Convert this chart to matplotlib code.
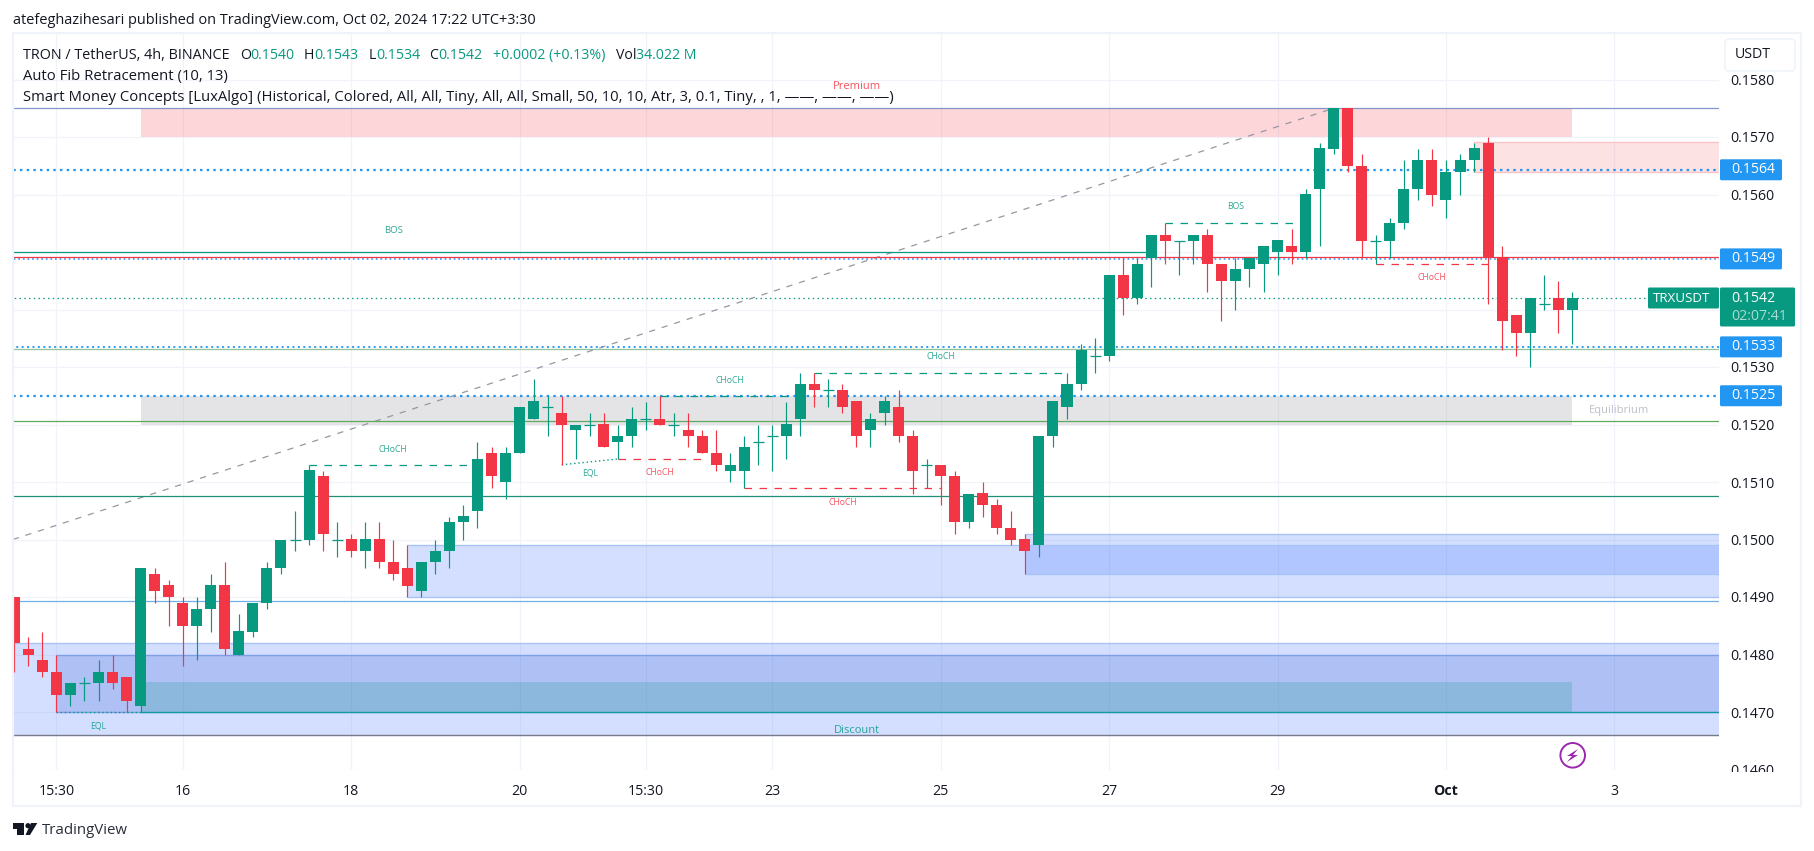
import numpy as np
import matplotlib
matplotlib.use('Agg')
import matplotlib.pyplot as plt
from matplotlib.patches import Rectangle, FancyBboxPatch, Circle, Polygon

plt.rcParams['font.family'] = ['Open Sans', 'DejaVu Sans']

# candles, left to right
opens = [0.1490, 0.1481, 0.1479, 0.1477, 0.1473, 0.1475, 0.1475, 0.1477, 0.1476, 0.1471,
         0.1494, 0.1492, 0.1489, 0.1485, 0.1488, 0.1492, 0.1480, 0.1484, 0.1489, 0.1495,
         0.1500, 0.1500, 0.1511, 0.1500, 0.1500, 0.1498, 0.1500, 0.1496, 0.1495, 0.1491,
         0.1496, 0.1498, 0.1503, 0.1505, 0.1515, 0.1510, 0.1515, 0.1521, 0.1523, 0.1522,
         0.1519, 0.1520, 0.1520, 0.1517, 0.1518, 0.1521, 0.1521, 0.1520, 0.1519, 0.1518,
         0.1515, 0.1512, 0.1512, 0.1517, 0.1518, 0.1518, 0.1521, 0.1527, 0.1526, 0.1526,
         0.1524, 0.1519, 0.1522, 0.1523, 0.1518, 0.1513, 0.1513, 0.1511, 0.1503, 0.1508,
         0.1506, 0.1502, 0.1500, 0.1499, 0.1518, 0.1523, 0.1527, 0.1532, 0.1532, 0.1546,
         0.1542, 0.1549, 0.1553, 0.1552, 0.1552, 0.1553, 0.1548, 0.1545, 0.1547, 0.1548,
         0.1550, 0.1551, 0.1550, 0.1561, 0.1568, 0.1575, 0.1565, 0.1552, 0.1552, 0.1555,
         0.1561, 0.1566, 0.1559, 0.1564, 0.1566, 0.1569, 0.1549, 0.1539, 0.1536, 0.1541,
         0.1542, 0.1540]
highs = [0.1490, 0.1483, 0.1484, 0.1480, 0.1475, 0.1476, 0.1479, 0.1480, 0.1476, 0.1495,
         0.1495, 0.1493, 0.1490, 0.1490, 0.1494, 0.1496, 0.1487, 0.1489, 0.1496, 0.1500,
         0.1505, 0.1513, 0.1512, 0.1503, 0.1501, 0.1503, 0.1503, 0.1500, 0.1499, 0.1496,
         0.1500, 0.1504, 0.1506, 0.1517, 0.1516, 0.1516, 0.1523, 0.1528, 0.1525, 0.1525,
         0.1520, 0.1522, 0.1522, 0.1520, 0.1523, 0.1524, 0.1525, 0.1522, 0.1522, 0.1519,
         0.1519, 0.1515, 0.1518, 0.1520, 0.1520, 0.1524, 0.1529, 0.1529, 0.1528, 0.1527,
         0.1524, 0.1522, 0.1525, 0.1526, 0.1519, 0.1514, 0.1513, 0.1512, 0.1508, 0.1510,
         0.1507, 0.1505, 0.1501, 0.1518, 0.1524, 0.1529, 0.1534, 0.1535, 0.1546, 0.1549,
         0.1549, 0.1553, 0.1555, 0.1552, 0.1553, 0.1554, 0.1548, 0.1549, 0.1549, 0.1551,
         0.1552, 0.1554, 0.1561, 0.1569, 0.1575, 0.1575, 0.1567, 0.1553, 0.1556, 0.1566,
         0.1568, 0.1568, 0.1566, 0.1567, 0.1569, 0.1570, 0.1551, 0.1539, 0.1542, 0.1546,
         0.1545, 0.1543]
lows = [0.1477, 0.1478, 0.1476, 0.1470, 0.1471, 0.1472, 0.1472, 0.1474, 0.1470, 0.1470,
        0.1489, 0.1485, 0.1478, 0.1479, 0.1484, 0.1480, 0.1480, 0.1483, 0.1488, 0.1494,
        0.1498, 0.1499, 0.1498, 0.1497, 0.1497, 0.1495, 0.1495, 0.1493, 0.1490, 0.1490,
        0.1494, 0.1495, 0.1500, 0.1502, 0.1509, 0.1507, 0.1515, 0.1521, 0.1518, 0.1513,
        0.1514, 0.1518, 0.1516, 0.1514, 0.1516, 0.1519, 0.1520, 0.1518, 0.1516, 0.1515,
        0.1512, 0.1510, 0.1509, 0.1513, 0.1512, 0.1514, 0.1518, 0.1523, 0.1523, 0.1522,
        0.1516, 0.1516, 0.1520, 0.1517, 0.1508, 0.1509, 0.1506, 0.1501, 0.1502, 0.1504,
        0.1501, 0.1499, 0.1494, 0.1497, 0.1516, 0.1521, 0.1526, 0.1529, 0.1531, 0.1539,
        0.1541, 0.1544, 0.1548, 0.1546, 0.1548, 0.1543, 0.1538, 0.1540, 0.1544, 0.1543,
        0.1546, 0.1548, 0.1549, 0.1551, 0.1567, 0.1564, 0.1549, 0.1548, 0.1549, 0.1554,
        0.1559, 0.1558, 0.1556, 0.1560, 0.1564, 0.1541, 0.1533, 0.1532, 0.1530, 0.1540,
        0.1536, 0.1534]
closes = [0.1482, 0.1480, 0.1477, 0.1473, 0.1475, 0.1475, 0.1477, 0.1475, 0.1472, 0.1495,
          0.1491, 0.1490, 0.1485, 0.1488, 0.1492, 0.1481, 0.1484, 0.1489, 0.1495, 0.1500,
          0.1500, 0.1512, 0.1501, 0.1500, 0.1498, 0.1500, 0.1496, 0.1494, 0.1492, 0.1496,
          0.1498, 0.1503, 0.1504, 0.1514, 0.1511, 0.1515, 0.1523, 0.1524, 0.1523, 0.1520,
          0.1520, 0.1520, 0.1516, 0.1518, 0.1521, 0.1521, 0.1520, 0.1520, 0.1518, 0.1515,
          0.1513, 0.1513, 0.1516, 0.1517, 0.1518, 0.1520, 0.1527, 0.1526, 0.1526, 0.1523,
          0.1518, 0.1521, 0.1524, 0.1518, 0.1512, 0.1513, 0.1511, 0.1503, 0.1508, 0.1506,
          0.1502, 0.1500, 0.1498, 0.1518, 0.1524, 0.1527, 0.1533, 0.1532, 0.1546, 0.1542,
          0.1548, 0.1553, 0.1552, 0.1552, 0.1553, 0.1548, 0.1545, 0.1547, 0.1549, 0.1551,
          0.1552, 0.1550, 0.1560, 0.1568, 0.1575, 0.1565, 0.1552, 0.1552, 0.1555, 0.1561,
          0.1566, 0.1560, 0.1564, 0.1566, 0.1568, 0.1549, 0.1538, 0.1536, 0.1542, 0.1541,
          0.1540, 0.1542]

# axis ticks, the 0.1540 and 0.1550 labels sit behind the price tags in the original
price_ticks = [0.1460, 0.1470, 0.1480, 0.1490, 0.1500, 0.1510, 0.1520, 0.1530, 0.1540, 0.1550, 0.1560, 0.1570, 0.1580]
price_labels = ['0.1460', '0.1470', '0.1480', '0.1490', '0.1500', '0.1510', '0.1520', '0.1530', '', '', '0.1560', '0.1570', '0.1580']
time_ticks = [3, 12, 24, 36, 45, 54, 66, 78, 90, 102, 114]
time_labels = ['15:30', '16', '18', '20', '15:30', '23', '25', '27', '29', 'Oct', '3']

# zones: first bar, last bar, low, high
premium_zone = (9, 111, 0.1570, 0.1575)
equilibrium_zone = (9, 111, 0.1520, 0.1525)
discount_zone = (9, 111, 0.1470, 0.14752)
demand_zones = [(-1, 125, 0.1466, 0.1482, '#2962FF'),
                (3, 125, 0.1470, 0.1480, '#1848CC'),
                (28, 125, 0.1490, 0.1499, '#2962FF'),
                (72, 125, 0.1494, 0.1501, '#2962FF')]
supply_zone = (104, 125, 0.1564, 0.15691)

# full width levels
level_tags = [0.15643, 0.15488, 0.15335, 0.15250]
level_widths = [1.6, 1.1, 1.3, 1.6]
tag_texts = ['0.1564', '0.1549', '0.1533', '0.1525']
solid_levels = [(0.1575, -1, '#8496C8'), (0.15492, -1, '#F23645'), (0.1550, -1, '#089981'),
                (0.15332, -1, '#8FC49A'), (0.15206, -1, '#5FA85F'), (0.15076, -1, '#1F8F78'),
                (0.14893, -1, '#6FB0E8'), (0.1470, 9, '#0F9AA0'), (0.1466, -1, '#787B86')]
solid_ends = [125, 125, 81, 125, 125, 125, 125, 125, 125]

# market structure: first bar, last bar, price, colour
struct_lines = [(21, 33, 0.1513, '#089981'), (43, 49, 0.1514, '#F23645'), (52, 66, 0.1509, '#F23645'),
                (57, 75, 0.1529, '#089981'), (46, 56, 0.1525, '#089981'), (82, 92, 0.1555, '#089981'),
                (97, 105, 0.1548, '#F23645')]
struct_labels = [('CHoCH', 27, 0.15157, '#089981', 6.2), ('EQL', 41, 0.15116, '#089981', 6.2), ('CHoCH', 46, 0.15116, '#F23645', 6.2),
                 ('CHoCH', 59, 0.15065, '#F23645', 6.2), ('CHoCH', 66, 0.15318, '#089981', 6.2), ('CHoCH', 51, 0.15277, '#089981', 6.2),
                 ('BOS', 27, 0.15537, '#089981', 6.8), ('BOS', 87, 0.15579, '#089981', 6.2), ('CHoCH', 101, 0.15455, '#F23645', 6.2),
                 ('EQL', 6, 0.14675, '#089981', 6.2), ('Premium', 60, 0.15787, '#F23645', 8), ('Discount', 60, 0.14667, '#089981', 8),
                 ('Equilibrium', 114.3, 0.15225, '#B2B5BE', 8)]
fib_x = [-0.1, 94]
fib_y = [0.1500, 0.1575]

UP = '#089981'
DOWN = '#F23645'
INK = '#131722'
W, H = 1814, 851
PANE = (13, 1719, 34, 770)
FS = 10.2

fig = plt.figure(figsize=(W / 100, H / 100), dpi=100, facecolor='white')
ax = fig.add_axes([PANE[0] / W, 1 - PANE[3] / H, (PANE[1] - PANE[0]) / W, (PANE[3] - PANE[2]) / H])
ax.set_xlim((PANE[0] - 14.3) / 14.036, (PANE[1] - 14.3) / 14.036)
ax.set_ylim(0.1570 - (PANE[3] - 137) / 57500, 0.1570 + (137 - PANE[2]) / 57500)
for s in ax.spines.values():
    s.set_visible(False)

ax.set_axisbelow(True)
ax.grid(color='#F0F3FA', lw=0.9)
ax.yaxis.tick_right()
ax.set_yticks(price_ticks)
ax.set_yticklabels(price_labels, fontsize=FS, color=INK)
ax.set_xticks(time_ticks)
ax.set_xticklabels(time_labels, fontsize=FS, color=INK)
ax.get_xticklabels()[9].set_fontweight('bold')
ax.tick_params(axis='x', length=0, pad=10)
ax.tick_params(axis='y', length=0, pad=8)


def band(z, color, alpha, edge=None):
    ax.add_patch(Rectangle((z[0], z[2]), z[1] - z[0], z[3] - z[2], facecolor=color, alpha=alpha, lw=0, zorder=1))
    if edge:
        ax.hlines([z[2], z[3]], z[0], z[1], color=edge, lw=1, zorder=1.1)


for z in demand_zones:
    band(z, z[4], 0.2, '#A9C3F5' if z[4] == '#2962FF' else '#7F9FE8')
band(supply_zone, '#F23645', 0.14, '#F8C4C8')
band(premium_zone, '#F23645', 0.2)
band(equilibrium_zone, '#787B86', 0.2)
band(discount_zone, '#089981', 0.2)

for lvl, lw in zip(level_tags, level_widths):
    ax.hlines(lvl, -1, 125, color='#2196F3', lw=lw, linestyles=[(0, (1.1, 1.9))], zorder=2)
for (lvl, start, col), end in zip(solid_levels, solid_ends):
    ax.hlines(lvl, start, end, color=col, lw=0.9, zorder=2.1)
ax.hlines(closes[-1], -1, (1645 - 14.3) / 14.036, color=UP, lw=0.9, linestyles=[(0, (1.2, 2.6))], zorder=2)
ax.hlines(0.1470, 3, 9, color='#089981', lw=1, linestyles=[(0, (1, 2))], zorder=2)

ax.plot(fib_x, fib_y, color='#9598A1', lw=0.9, dashes=(5, 5.5), zorder=2)
for a, b, lvl, col in struct_lines:
    ax.hlines(lvl, a, b, color=col, lw=0.9, linestyles=[(0, (6, 6))], zorder=2)
ax.plot([39, 43], [0.1513, 0.1514], color=UP, lw=1, dashes=(1, 2), zorder=2)

idx = np.arange(len(opens))
o, h, l, c = map(np.array, (opens, highs, lows, closes))
cols = np.where(c >= o, UP, DOWN)
ax.vlines(idx, l, h, color=cols, lw=0.85, zorder=3)
ax.bar(idx, np.abs(c - o), bottom=np.minimum(o, c), width=0.784, color=cols, lw=0, zorder=3)
doji = o == c
ax.hlines(c[doji], idx[doji] - 0.392, idx[doji] + 0.392, color=UP, lw=0.9, zorder=3)

for txt, i, lvl, col, fs in struct_labels:
    ax.text(i, lvl, txt, color=col, fontsize=fs, ha='center', va='center', zorder=4,
            alpha=0.85, clip_on=False)

# overlay in pixels for frame, price tags, legend
ov = fig.add_axes([0, 0, 1, 1], zorder=5)
ov.set_xlim(0, W)
ov.set_ylim(H, 0)
ov.axis('off')
ov.patch.set_alpha(0)


def px_y(price):
    return H - ax.transData.transform((0, price))[1]


# the scale labels are cut off by the button on top and the time axis below
ov.add_patch(Rectangle((1720, 772), 78, 33, color='white', lw=0))
ov.add_patch(Rectangle((1720, 68), 78, 7, color='white', lw=0))
ov.add_patch(Rectangle((12.5, 33), 1788.5, 773, fill=False, ec='#F0F3FA', lw=1.6))

ov.add_patch(FancyBboxPatch((1727, 41), 66, 28, boxstyle='round,pad=2,rounding_size=4', fc='white', ec='#F0F3FA', lw=1.2))
ov.text(1735, 55, 'USDT', fontsize=FS, color=INK, va='center')

for lvl, txt in zip(level_tags, tag_texts):
    y = px_y(lvl)
    ov.add_patch(FancyBboxPatch((1720, y - 10.5), 62, 21, boxstyle='round,pad=0,rounding_size=1.5', fc='#2196F3', lw=0))
    ov.text(1731, y, txt, fontsize=FS, color='white', va='center')

y = px_y(closes[-1])
ov.add_patch(FancyBboxPatch((1648, y - 10.5), 71, 21, boxstyle='round,pad=0,rounding_size=1.5', fc=UP, lw=0))
ov.text(1653, y, 'TRXUSDT', fontsize=9.6, color='white', va='center')
ov.add_patch(FancyBboxPatch((1720, y - 10.5), 75, 39, boxstyle='round,pad=0,rounding_size=1.5', fc=UP, lw=0))
ov.text(1731, y, '0.1542', fontsize=FS, color='white', va='center')
ov.text(1731, y + 18, '02:07:41', fontsize=FS, color='white', alpha=0.65, va='center')

# top legend
ov.text(13, 24.5, 'atefeghazihesari published on TradingView.com, Oct 02, 2024 17:22 UTC+3:30', fontsize=10.45, color=INK)
ov.text(23, 59, 'TRON / TetherUS, 4h, BINANCE', fontsize=10.4, color=INK)
legend_parts = [('O', 240, INK), ('0.1540', 250.7, UP), ('H', 304, INK), ('0.1543', 314.3, UP), ('L', 369, INK),
                ('0.1534', 376, UP), ('C', 429, INK), ('0.1542', 438.7, UP), ('+0.0002 (+0.13%)', 492.7, UP),
                ('Vol', 616, INK), ('34.022 M', 636, UP)]
for txt, x, col in legend_parts:
    ov.text(x, 59, txt, fontsize=FS, color=col)
ov.text(23, 80, 'Auto Fib Retracement (10, 13)', fontsize=10.7, color=INK)
ov.text(23, 101, 'Smart Money Concepts [LuxAlgo] (Historical, Colored, All, All, Tiny, All, All, Small, 50, 10, 10, Atr, 3, 0.1, Tiny, , 1, \u2014\u2014, \u2014\u2014, \u2014\u2014)',
        fontsize=10.7, color=INK)

# bolt marker
ov.add_patch(Circle((1572.7, 755.3), 12.3, fill=False, ec='#9C27B0', lw=1.4))
ov.add_patch(Polygon([(1578, 749), (1567, 756), (1572, 756), (1567, 762), (1578, 755), (1573, 755)], color='#9C27B0', lw=0))

# footer logo
ov.add_patch(Polygon([(13, 823), (23.5, 823), (23.5, 835), (17, 835), (17, 829), (13, 829)], color=INK, lw=0))
ov.add_patch(Circle((28, 825.7), 2.6, color=INK, lw=0))
ov.add_patch(Polygon([(30, 835), (25.5, 835), (31, 823), (37.3, 823)], color=INK, lw=0))
ov.text(42, 830, 'TradingView', fontsize=10.8, color='#2A2E39', va='center')

fig.savefig('out.png', dpi=100)
